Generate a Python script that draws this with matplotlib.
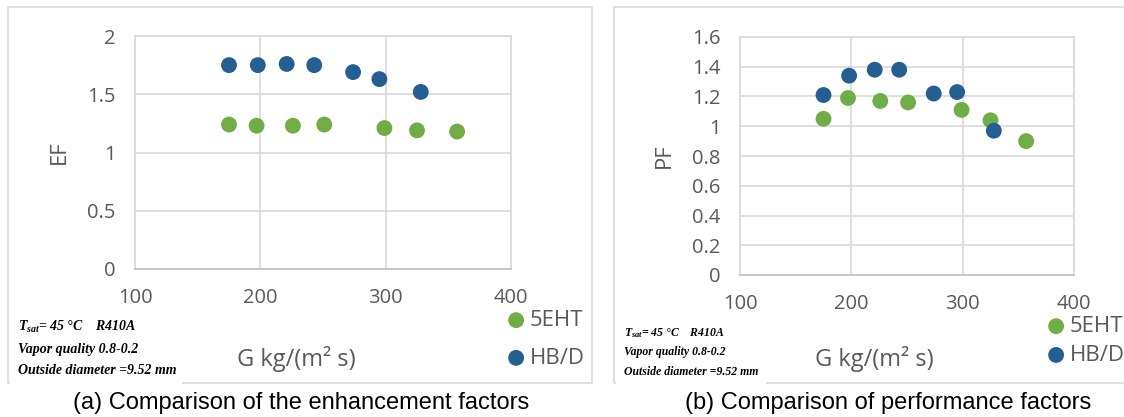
import matplotlib.pyplot as plt
from matplotlib.patches import Rectangle
from matplotlib.ticker import FuncFormatter

plt.rcParams['mathtext.fontset'] = 'custom'
plt.rcParams['mathtext.it'] = 'Liberation Serif:bold:italic'
plt.rcParams['mathtext.rm'] = 'Liberation Serif:bold:italic'

# data
g_hbd = [175, 198, 221, 243, 274, 295, 328]
g_5eht = [175, 197, 226, 251, 299, 325, 357]
ef_hbd = [1.75, 1.75, 1.76, 1.75, 1.69, 1.63, 1.52]
ef_5eht = [1.24, 1.23, 1.23, 1.24, 1.21, 1.19, 1.18]
pf_hbd = [1.21, 1.34, 1.38, 1.38, 1.22, 1.23, 0.97]
pf_5eht = [1.05, 1.19, 1.17, 1.16, 1.11, 1.04, 0.90]

green = '#70AD47'
blue = '#255E91'
grid_c = '#D9D9D9'
tick_c = '#595959'
font = 'Open Sans'

W, H = 1124, 417
fig = plt.figure(figsize=(W / 100, H / 100), dpi=100)


def fx(px):
    return px / W


def fy(py):
    return 1 - py / H


# panel frames
fig.patches.append(Rectangle((fx(8), fy(383)), fx(584), 376 / H, transform=fig.transFigure,
                             fill=False, edgecolor=grid_c, lw=1.2))
fig.patches.append(Rectangle((fx(614), fy(383)), fx(520), 376 / H, transform=fig.transFigure,
                             fill=False, edgecolor=grid_c, lw=1.2))


def gfmt(v, pos):
    return '%g' % round(v, 2)


def panel(rect, y1, y2, ymax, ystep, ylabel, ylab_x, leg_x, leg_y, spacing):
    ax = fig.add_axes(rect)
    ax.scatter(g_5eht, y2, s=130, color=green, zorder=3, label='5EHT', edgecolors='none')
    ax.scatter(g_hbd, y1, s=130, color=blue, zorder=3, label='HB/D', edgecolors='none')
    ax.set_xlim(100, 400)
    ax.set_ylim(0, ymax)
    ax.set_xticks([100, 200, 300, 400])
    n = int(round(ymax / ystep))
    ax.set_yticks([i * ystep for i in range(n + 1)])
    ax.yaxis.set_major_formatter(FuncFormatter(gfmt))
    ax.grid(True, color=grid_c, lw=1.2, zorder=0)
    for s in ['top', 'right', 'left']:
        ax.spines[s].set_color(grid_c)
        ax.spines[s].set_linewidth(1.2)
    ax.spines['bottom'].set_color('#BFBFBF')
    ax.spines['bottom'].set_linewidth(1.2)
    ax.tick_params(length=0, labelsize=14.5, labelcolor=tick_c, pad=14)
    for lab in ax.get_xticklabels() + ax.get_yticklabels():
        lab.set_fontfamily(font)
    fig.text(fx(ylab_x), rect[1] + rect[3] / 2, ylabel, rotation=90, ha='center', va='center',
             fontsize=16, color=tick_c, family=font)
    leg = ax.legend(loc='upper left', bbox_to_anchor=(fx(leg_x), fy(leg_y)),
                    bbox_transform=fig.transFigure, frameon=False, handletextpad=0.1,
                    handlelength=1.0, labelspacing=spacing, borderpad=0, borderaxespad=0,
                    prop={'family': font, 'size': 16})
    for t in leg.get_texts():
        t.set_color(tick_c)
    return ax


panel([fx(135), fy(269), fx(376), 233 / H], ef_hbd, ef_5eht, 2, 0.5, 'EF', 59, 505, 310, 0.75)
panel([fx(740), fy(275), fx(334), 238 / H], pf_hbd, pf_5eht, 1.6, 0.2, 'PF', 664, 1045, 316, 0.35)

# x labels
fig.text(fx(296), fy(359), 'G kg/(m² s)', ha='center', va='center', fontsize=17,
         color=tick_c, family=font)
fig.text(fx(874), fy(359), 'G kg/(m² s)', ha='center', va='center', fontsize=17,
         color=tick_c, family=font)

# condition notes
note_kw = dict(family='Liberation Serif', style='italic', weight='bold', color='black')
for x0, top, fs, step, wbox in [(18, 316, 10, 22, 172), (624, 322, 8.5, 19.5, 150)]:
    fig.patches.append(Rectangle((fx(x0 - 8), fy(388)), fx(wbox),
                                 (388 - top + 4) / H, transform=fig.transFigure,
                                 facecolor='white', edgecolor='none', zorder=5))
    lines = [r'$T_{sat}$= 45 °C    R410A', 'Vapor quality 0.8-0.2', 'Outside diameter =9.52 mm']
    for i, s in enumerate(lines):
        fig.text(fx(x0), fy(top + 11 + i * step), s, ha='left', va='center', fontsize=fs,
                 zorder=6, **note_kw)

# captions
fig.text(fx(301), fy(403), '(a) Comparison of the enhancement factors', ha='center', va='center',
         fontsize=17, family='Liberation Sans', color='black')
fig.text(fx(888), fy(403), '(b) Comparison of performance factors', ha='center', va='center',
         fontsize=17, family='Liberation Sans', color='black')

fig.savefig('out.png', dpi=100)
